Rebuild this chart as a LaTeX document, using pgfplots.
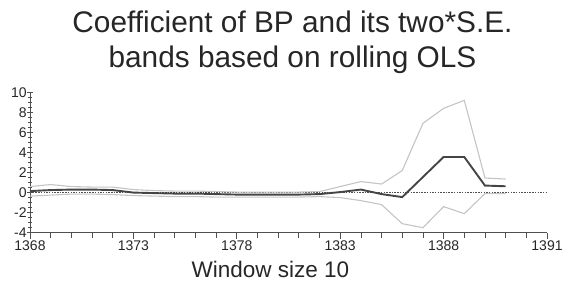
\documentclass[border=0pt]{standalone}
\usepackage{pgfplots}
\pgfplotsset{compat=1.18}
\usepackage{fontspec}
\setmainfont{Liberation Sans}
\definecolor{coefc}{HTML}{454545}
\definecolor{bandc}{HTML}{C4C4C4}
\definecolor{axc}{HTML}{505050}
\begin{document}
\begin{tikzpicture}
\begin{axis}[
  at={(0,0)}, anchor=south west,
  scale only axis, width=517bp, height=140.4bp,
  xmin=1368, xmax=1393, ymin=-4, ymax=10,
  axis x line=bottom, axis y line=left,
  axis line style={-, color=axc, line width=0.8bp},
  xtick={1368,1373,1378,1383,1388,1393},
  xticklabels={1368,1373,1378,1383,1388,1391},
  minor x tick num=4,
  ytick={-4,-2,0,2,4,6,8,10},
  minor y tick num=3,
  tick style={color=axc, line width=0.7bp},
  x tick style={/pgfplots/major tick length=6bp,/pgfplots/minor tick length=5bp},
  xtick align=outside,
  y tick style={/pgfplots/major tick length=5bp,/pgfplots/minor tick length=3bp},
  ytick align=center,
  /pgf/number format/assume math mode=true,
  xticklabel style={font=\fontsize{14bp}{16bp}\selectfont, color=black!85, /pgf/number format/set thousands separator={}},
  yticklabel style={font=\fontsize{14bp}{16bp}\selectfont, color=black!85, inner sep=0pt, xshift=-1bp},
  scaled x ticks=false,
  clip=false,
]
\addplot[color=axc, line width=0.6bp, dash pattern=on 1.5bp off 1.2bp] coordinates {(1368,0) (1393,0)};
\addplot[color=bandc, line width=1.1bp] coordinates {
(1368,0.6) (1369,0.8) (1370,0.6) (1371,0.55) (1372,0.55) (1373,0.3) (1374,0.2) (1375,0.15) (1376,0.15) (1377,0.1) (1378,0.05) (1379,0.05) (1380,0.05) (1381,0.05) (1382,0.1) (1383,0.6) (1384,1.1) (1385,0.85) (1386,2.2) (1387,6.9) (1388,8.4) (1389,9.2) (1390,1.45) (1391,1.35)};
\addplot[color=bandc, line width=1.1bp] coordinates {
(1368,-0.35) (1369,-0.25) (1370,-0.15) (1371,-0.15) (1372,-0.2) (1373,-0.3) (1374,-0.35) (1375,-0.4) (1376,-0.4) (1377,-0.45) (1378,-0.45) (1379,-0.45) (1380,-0.45) (1381,-0.45) (1382,-0.4) (1383,-0.5) (1384,-0.8) (1385,-1.2) (1386,-3.1) (1387,-3.5) (1388,-1.4) (1389,-2.1) (1390,-0.1) (1391,-0.1)};
\addplot[color=coefc, line width=1.9bp] coordinates {
(1368,0.15) (1369,0.25) (1370,0.3) (1371,0.3) (1372,0.25) (1373,0.0) (1374,-0.05) (1375,-0.1) (1376,-0.1) (1377,-0.15) (1378,-0.2) (1379,-0.2) (1380,-0.2) (1381,-0.2) (1382,-0.15) (1383,0.05) (1384,0.3) (1385,-0.15) (1386,-0.45) (1387,1.55) (1388,3.55) (1389,3.55) (1390,0.7) (1391,0.63)};
\end{axis}
\path[use as bounding box] (-30bp,-49.3bp) rectangle (555bp,232.7bp);
\node[anchor=base, inner sep=0pt, font=\fontsize{29.8bp}{35bp}\selectfont, color=black!85] at (262.5bp,199.7bp) {Coefficient of BP and its two*S.E.};
\node[anchor=base, inner sep=0pt, font=\fontsize{29.8bp}{35bp}\selectfont, color=black!85] at (262.5bp,164.7bp) {bands based on rolling OLS};
\node[anchor=base, inner sep=0pt, font=\fontsize{22.5bp}{26bp}\selectfont, color=black!85] at (240.5bp,-44.3bp) {Window size 10};
\end{tikzpicture}
\end{document}
